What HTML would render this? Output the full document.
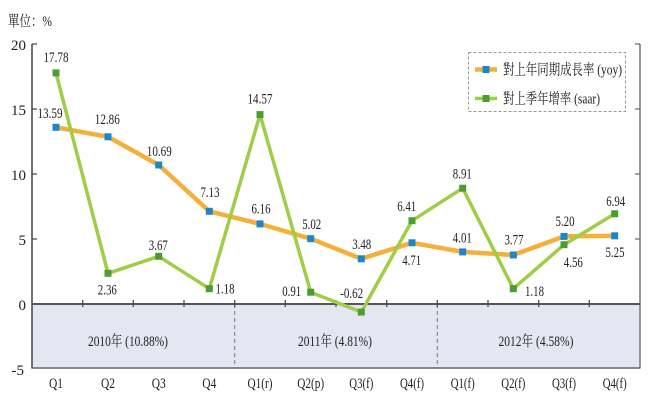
<!DOCTYPE html>
<html><head><meta charset="utf-8"><style>
html,body{margin:0;padding:0;background:#fff;}
svg{display:block;}
text{font-family:"Liberation Serif","Noto Serif CJK SC","Noto Sans CJK TC",serif;fill:#222;}
</style></head><body>
<svg width="650" height="400" viewBox="0 0 650 400" xmlns="http://www.w3.org/2000/svg">
<rect x="0" y="0" width="650" height="400" fill="#fff"/>
<!-- title -->
<text x="8" y="26" font-size="15" textLength="44" lengthAdjust="spacingAndGlyphs">單位：%</text>
<!-- shaded negative region -->
<rect x="32" y="304" width="608" height="64" fill="#e6e6f3"/>
<!-- dashed separators -->
<line x1="234.7" y1="304" x2="234.7" y2="368" stroke="#777" stroke-width="1" stroke-dasharray="4,3"/>
<line x1="437.3" y1="304" x2="437.3" y2="368" stroke="#777" stroke-width="1" stroke-dasharray="4,3"/>
<!-- axes -->
<line x1="32" y1="44" x2="32" y2="368.5" stroke="#444" stroke-width="1.5"/>
<line x1="640" y1="44" x2="640" y2="368.5" stroke="#777" stroke-width="1.5"/>
<line x1="32" y1="368" x2="640" y2="368" stroke="#666" stroke-width="1.5"/>
<line x1="32" y1="304" x2="640" y2="304" stroke="#555" stroke-width="2"/>
<!-- y ticks left (inward) -->
<g stroke="#444" stroke-width="1.2">
<line x1="32" y1="44" x2="37" y2="44"/>
<line x1="32" y1="109" x2="37" y2="109"/>
<line x1="32" y1="174" x2="37" y2="174"/>
<line x1="32" y1="239" x2="37" y2="239"/>
</g>
<g stroke="#666" stroke-width="1.2">
<line x1="640" y1="44" x2="635" y2="44"/>
<line x1="640" y1="109" x2="635" y2="109"/>
<line x1="640" y1="174" x2="635" y2="174"/>
<line x1="640" y1="239" x2="635" y2="239"/>
</g>
<!-- x ticks -->
<g stroke="#444" stroke-width="1.2">
<line x1="82.7" y1="300" x2="82.7" y2="307"/>
<line x1="133.3" y1="300" x2="133.3" y2="307"/>
<line x1="184" y1="300" x2="184" y2="307"/>
<line x1="234.7" y1="300" x2="234.7" y2="307"/>
<line x1="285.3" y1="300" x2="285.3" y2="307"/>
<line x1="336" y1="300" x2="336" y2="307"/>
<line x1="386.7" y1="300" x2="386.7" y2="307"/>
<line x1="437.3" y1="300" x2="437.3" y2="307"/>
<line x1="488" y1="300" x2="488" y2="307"/>
<line x1="538.7" y1="300" x2="538.7" y2="307"/>
<line x1="589.3" y1="300" x2="589.3" y2="307"/>
</g>
<!-- y labels -->
<g font-size="15" text-anchor="end">
<text x="26" y="50">20</text>
<text x="26" y="115">15</text>
<text x="26" y="180">10</text>
<text x="26" y="245">5</text>
<text x="26" y="310">0</text>
<text x="24" y="375">-5</text>
</g>
<!-- period labels -->
<g font-size="15" text-anchor="middle" fill="#333">
<text x="128" y="346" textLength="80" lengthAdjust="spacingAndGlyphs">2010年 (10.88%)</text>
<text x="335" y="346" textLength="74" lengthAdjust="spacingAndGlyphs">2011年 (4.81%)</text>
<text x="536" y="346" textLength="75" lengthAdjust="spacingAndGlyphs">2012年 (4.58%)</text>
</g>
<!-- x labels -->
<g font-size="15" text-anchor="middle">
<text x="56" y="388" textLength="14" lengthAdjust="spacingAndGlyphs">Q1</text>
<text x="108" y="388" textLength="14" lengthAdjust="spacingAndGlyphs">Q2</text>
<text x="158.7" y="388" textLength="14" lengthAdjust="spacingAndGlyphs">Q3</text>
<text x="209.3" y="388" textLength="14" lengthAdjust="spacingAndGlyphs">Q4</text>
<text x="260" y="388" textLength="25" lengthAdjust="spacingAndGlyphs">Q1(r)</text>
<text x="310.7" y="388" textLength="27" lengthAdjust="spacingAndGlyphs">Q2(p)</text>
<text x="361.3" y="388" textLength="24" lengthAdjust="spacingAndGlyphs">Q3(f)</text>
<text x="412" y="388" textLength="24" lengthAdjust="spacingAndGlyphs">Q4(f)</text>
<text x="462.7" y="388" textLength="24" lengthAdjust="spacingAndGlyphs">Q1(f)</text>
<text x="513.3" y="388" textLength="24" lengthAdjust="spacingAndGlyphs">Q2(f)</text>
<text x="564" y="388" textLength="24" lengthAdjust="spacingAndGlyphs">Q3(f)</text>
<text x="614.7" y="388" textLength="24" lengthAdjust="spacingAndGlyphs">Q4(f)</text>
</g>
<!-- yoy line -->
<polyline fill="none" stroke="#f5b03c" stroke-width="4.5" stroke-linejoin="round"
points="56,127.3 108,136.8 158.7,165 209.3,211.3 260,223.9 310.7,238.7 361.3,258.8 412,242.8 462.7,251.9 513.3,255 564,236.4 614.7,235.8"/>
<!-- saar line -->
<polyline fill="none" stroke="#9fcd45" stroke-width="3.5" stroke-linejoin="round"
points="56,72.9 108,273.3 158.7,256.3 209.3,288.7 260,114.6 310.7,292.2 361.3,312.1 412,220.7 462.7,188.2 513.3,288.7 564,244.7 614.7,213.8"/>
<!-- yoy markers -->
<g fill="#1a87cc">
<rect x="52.5" y="123.8" width="7" height="7"/>
<rect x="104.5" y="133.3" width="7" height="7"/>
<rect x="155.2" y="161.5" width="7" height="7"/>
<rect x="205.8" y="207.8" width="7" height="7"/>
<rect x="256.5" y="220.4" width="7" height="7"/>
<rect x="307.2" y="235.2" width="7" height="7"/>
<rect x="357.8" y="255.3" width="7" height="7"/>
<rect x="408.5" y="239.3" width="7" height="7"/>
<rect x="459.2" y="248.4" width="7" height="7"/>
<rect x="509.8" y="251.5" width="7" height="7"/>
<rect x="560.5" y="232.9" width="7" height="7"/>
<rect x="611.2" y="232.3" width="7" height="7"/>
</g>
<!-- saar markers -->
<g fill="#4b9c33">
<rect x="52.5" y="69.4" width="7" height="7"/>
<rect x="104.5" y="269.8" width="7" height="7"/>
<rect x="155.2" y="252.8" width="7" height="7"/>
<rect x="205.8" y="285.2" width="7" height="7"/>
<rect x="256.5" y="111.1" width="7" height="7"/>
<rect x="307.2" y="288.7" width="7" height="7"/>
<rect x="357.8" y="308.6" width="7" height="7"/>
<rect x="408.5" y="217.2" width="7" height="7"/>
<rect x="459.2" y="184.7" width="7" height="7"/>
<rect x="509.8" y="285.2" width="7" height="7"/>
<rect x="560.5" y="241.2" width="7" height="7"/>
<rect x="611.2" y="210.3" width="7" height="7"/>
</g>
<!-- value labels -->
<g font-size="15" text-anchor="middle">
<text x="56" y="62" textLength="25" lengthAdjust="spacingAndGlyphs">17.78</text>
<text x="50" y="118" textLength="25" lengthAdjust="spacingAndGlyphs">13.59</text>
<text x="107.3" y="124" textLength="25" lengthAdjust="spacingAndGlyphs">12.86</text>
<text x="159.3" y="156" textLength="25" lengthAdjust="spacingAndGlyphs">10.69</text>
<text x="210" y="197" textLength="19" lengthAdjust="spacingAndGlyphs">7.13</text>
<text x="158.3" y="250" textLength="19" lengthAdjust="spacingAndGlyphs">3.67</text>
<text x="107.3" y="294.5" textLength="19" lengthAdjust="spacingAndGlyphs">2.36</text>
<text x="225" y="293.5" textLength="19" lengthAdjust="spacingAndGlyphs">1.18</text>
<text x="260" y="103.5" textLength="25" lengthAdjust="spacingAndGlyphs">14.57</text>
<text x="261" y="213.5" textLength="19" lengthAdjust="spacingAndGlyphs">6.16</text>
<text x="311.7" y="229" textLength="19" lengthAdjust="spacingAndGlyphs">5.02</text>
<text x="361.7" y="249" textLength="19" lengthAdjust="spacingAndGlyphs">3.48</text>
<text x="406.7" y="211" textLength="19" lengthAdjust="spacingAndGlyphs">6.41</text>
<text x="411.7" y="265" textLength="19" lengthAdjust="spacingAndGlyphs">4.71</text>
<text x="291.7" y="296" textLength="19" lengthAdjust="spacingAndGlyphs">0.91</text>
<text x="351.7" y="298" textLength="23" lengthAdjust="spacingAndGlyphs">-0.62</text>
<text x="462.3" y="178.5" textLength="19" lengthAdjust="spacingAndGlyphs">8.91</text>
<text x="462.3" y="242.5" textLength="19" lengthAdjust="spacingAndGlyphs">4.01</text>
<text x="514" y="244.5" textLength="19" lengthAdjust="spacingAndGlyphs">3.77</text>
<text x="534.5" y="296" textLength="19" lengthAdjust="spacingAndGlyphs">1.18</text>
<text x="565" y="226" textLength="19" lengthAdjust="spacingAndGlyphs">5.20</text>
<text x="573.3" y="267" textLength="19" lengthAdjust="spacingAndGlyphs">4.56</text>
<text x="615.7" y="206" textLength="19" lengthAdjust="spacingAndGlyphs">6.94</text>
<text x="615" y="257" textLength="19" lengthAdjust="spacingAndGlyphs">5.25</text>
</g>
<!-- legend -->
<rect x="468.5" y="52.5" width="157" height="59" fill="#fff" stroke="#999" stroke-width="1" stroke-dasharray="3,2"/>
<line x1="475" y1="69.5" x2="497" y2="69.5" stroke="#f5b03c" stroke-width="4.5"/>
<rect x="482.5" y="66" width="7" height="7" fill="#1a87cc"/>
<line x1="475" y1="98.5" x2="497" y2="98.5" stroke="#9fcd45" stroke-width="3.5"/>
<rect x="482.5" y="95" width="7" height="7" fill="#4b9c33"/>
<text x="503" y="74.5" font-size="15" textLength="119" lengthAdjust="spacingAndGlyphs">對上年同期成長率 (yoy)</text>
<text x="503" y="103.5" font-size="15" textLength="97" lengthAdjust="spacingAndGlyphs">對上季年增率 (saar)</text>
</svg>
</body></html>
